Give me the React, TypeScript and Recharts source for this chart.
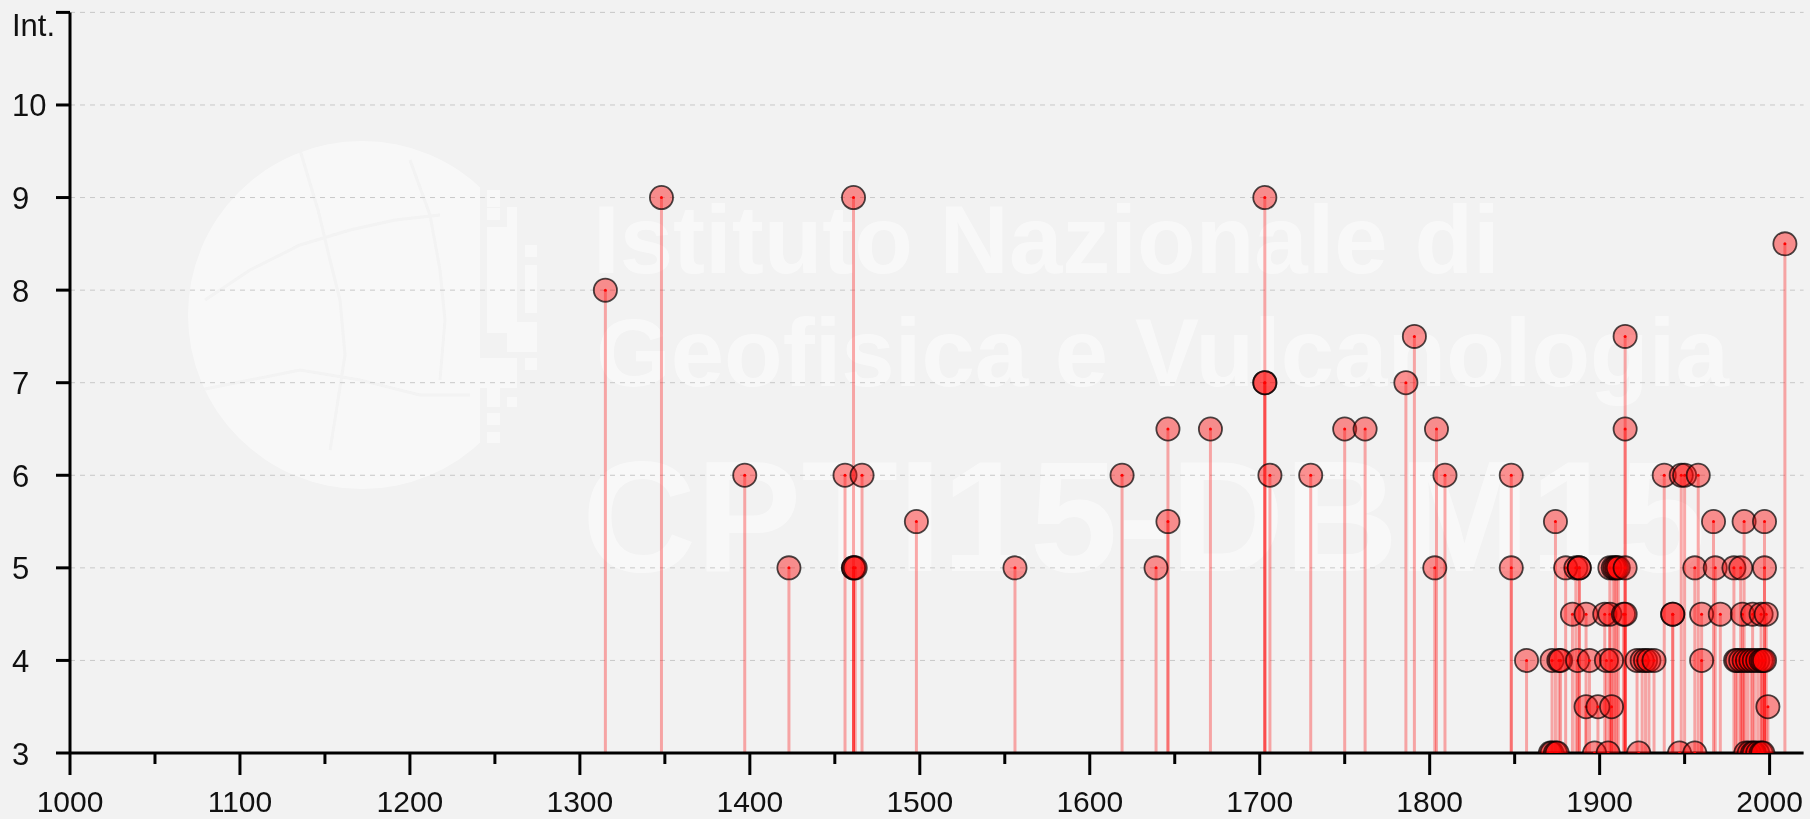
import React from "react";
import {
  CartesianGrid,
  ReferenceLine,
  Scatter,
  ScatterChart,
  XAxis,
  YAxis,
} from "recharts";

// earthquake year and epicentral intensity
const years = [
  1315, 1348, 1397, 1423, 1456, 1461, 1461, 1461, 1462, 1466, 1498, 1556, 1619,
  1639, 1646, 1646, 1671, 1703, 1703, 1703, 1706, 1730, 1750, 1762, 1786, 1791,
  1803, 1804, 1809, 1848, 1848, 1857,
  1871, 1872, 1872, 1874, 1874, 1875, 1876, 1877, 1880, 1884, 1886, 1887, 1888,
  1888, 1892, 1892, 1894, 1897, 1899, 1903, 1904, 1905, 1906, 1906, 1907, 1907,
  1908, 1909, 1910, 1911, 1914, 1915, 1915, 1915, 1915, 1922, 1923, 1925, 1927,
  1929, 1932, 1938, 1943, 1943, 1947, 1948, 1950, 1956, 1956, 1958, 1960, 1960,
  1967, 1968, 1971, 1979, 1980, 1981, 1983, 1983, 1984, 1985, 1985, 1986, 1987,
  1988, 1989, 1990, 1990, 1991, 1991, 1993, 1993, 1995, 1995, 1995, 1996, 1996,
  1997, 1997, 1997, 1998, 1999, 2009,
];

const intensities = [
  8, 9, 6, 5, 6, 9, 5, 5, 5, 6, 5.5, 5, 6,
  5, 6.5, 5.5, 6.5, 9, 7, 7, 6, 6, 6.5, 6.5, 7, 7.5,
  5, 6.5, 6, 6, 5, 4,
  3, 3, 4, 3, 5.5, 3, 4, 4, 5, 4.5, 5, 4, 5,
  5, 4.5, 3.5, 4, 3, 3.5, 4.5, 4, 3, 5, 4.5, 4, 3.5,
  5, 5, 5, 5, 4.5, 4.5, 5, 6.5, 7.5, 4, 3, 4, 4,
  4, 4, 6, 4.5, 4.5, 3, 6, 6, 5, 3, 6, 4.5, 4,
  5.5, 5, 4.5, 5, 4, 4, 5, 4, 4.5, 5.5, 4, 3, 4,
  3, 4, 4.5, 3, 4, 3, 4, 3, 4.5, 4, 3, 4, 3,
  5.5, 5, 4, 4.5, 3.5, 8.5,
];

const xTicks = [
  1000, 1050, 1100, 1150, 1200, 1250, 1300, 1350, 1400, 1450, 1500, 1550, 1600,
  1650, 1700, 1750, 1800, 1850, 1900, 1950, 2000,
];
const yTicks = [3, 4, 5, 6, 7, 8, 9, 10, 11];
const watermarkLines = [
  "Istituto Nazionale di",
  "Geofisica e Vulcanologia",
  "CPTI15-DBM15",
];

const data = years.map((year, i) => ({ year, int: intensities[i] }));

const FONT = "'Liberation Sans', Arial, sans-serif";

function XTick({ x, y, payload }: any) {
  const major = payload.value % 100 === 0;
  return (
    <g>
      <line
        x1={x}
        x2={x}
        y1={y}
        y2={y + (major ? 22 : 11)}
        stroke="#000"
        strokeWidth={3}
      />
      {major && (
        <text
          x={x}
          y={y + 59}
          textAnchor="middle"
          fontSize={30}
          fill="#111"
          fontFamily={FONT}
        >
          {payload.value}
        </text>
      )}
    </g>
  );
}

function YTick({ x, y, payload }: any) {
  const top = payload.value === 11;
  return (
    <g>
      <line x1={x - 14} x2={x} y1={y} y2={y} stroke="#000" strokeWidth={3} />
      <text
        x={x - 58}
        y={y + (top ? 23.6 : 11.5)}
        textAnchor="start"
        fontSize={31}
        fill="#111"
        fontFamily={FONT}
      >
        {top ? "Int." : payload.value}
      </text>
    </g>
  );
}

function Marker({ cx, cy }: any) {
  return (
    <g>
      <circle
        cx={cx}
        cy={cy}
        r={11.6}
        fill="#ff0000"
        fillOpacity={0.42}
        stroke="#000"
        strokeOpacity={0.7}
        strokeWidth={1.8}
      />
      <circle cx={cx} cy={cy} r={1.5} fill="#ff0000" />
    </g>
  );
}

function Watermark() {
  return (
    <svg
      width={1810}
      height={819}
      style={{ position: "absolute", left: 0, top: 0 }}
    >
      <defs>
        <clipPath id="globeClip">
          <rect x={150} y={120} width={330} height={400} />
        </clipPath>
      </defs>
      <g fill="#fff" opacity={0.5}>
        <circle cx={362} cy={315} r={174} clipPath="url(#globeClip)" />
        <rect x={487} y={190} width={13} height={17} />
        <rect x={487} y={208} width={13} height={12} />
        <rect x={507} y={207} width={10} height={31} />
        <rect x={487} y={227} width={30} height={106} />
        <rect x={525} y={245} width={12} height={12} />
        <rect x={525} y={265} width={12} height={48} />
        <rect x={507} y={322} width={30} height={30} />
        <rect x={525} y={358} width={12} height={12} />
        <rect x={467} y={358} width={50} height={30} />
        <rect x={487} y={388} width={13} height={19} />
        <rect x={507} y={397} width={10} height={10} />
        <rect x={487} y={413} width={13} height={12} />
        <rect x={487} y={432} width={13} height={11} />
        <text x={593} y={273} fontSize={96} fontWeight="bold" fontFamily={FONT}>
          {watermarkLines[0]}
        </text>
        <text x={596} y={386} fontSize={96} fontWeight="bold" fontFamily={FONT}>
          {watermarkLines[1]}
        </text>
        <text x={582} y={571} fontSize={158} fontWeight="bold" fontFamily={FONT}>
          {watermarkLines[2]}
        </text>
      </g>
      <g stroke="#f2f2f2" strokeWidth={3} fill="none" opacity={0.9}>
        <polyline points="205,300 250,270 300,245 350,230 395,220 440,215" />
        <polyline points="300,150 318,210 330,260 340,300 345,355 338,400 330,450" />
        <polyline points="200,390 250,380 300,370 360,380 420,395 470,395" />
        <polyline points="410,160 430,215 440,270 445,320 440,380" />
      </g>
    </svg>
  );
}

export default function App() {
  return (
    <div
      style={{
        position: "absolute",
        left: 0,
        top: 0,
        width: 1810,
        height: 819,
        background: "#f2f2f2",
      }}
    >
      <Watermark />
      <div style={{ position: "absolute", left: 0, top: 0 }}>
        <ScatterChart
          width={1810}
          height={819}
          margin={{ top: 12.4, right: 6.4, bottom: 0, left: 0 }}
        >
          <CartesianGrid
            vertical={false}
            stroke="#c8c8c8"
            strokeDasharray="5 5"
          />
          <XAxis
            type="number"
            dataKey="year"
            domain={[1000, 2020]}
            ticks={xTicks}
            interval={0}
            tickSize={0}
            tickMargin={0}
            tickLine={false}
            tick={<XTick />}
            axisLine={{ stroke: "#000", strokeWidth: 3 }}
            height={66}
            allowDataOverflow
          />
          <YAxis
            type="number"
            dataKey="int"
            domain={[3, 11]}
            ticks={yTicks}
            interval={0}
            tickSize={0}
            tickMargin={0}
            tickLine={false}
            tick={<YTick />}
            axisLine={{ stroke: "#000", strokeWidth: 3 }}
            width={70}
            allowDataOverflow
          />
          {data.map((d, i) => (
            <ReferenceLine
              key={i}
              segment={[
                { x: d.year, y: 3 },
                { x: d.year, y: d.int },
              ]}
              stroke="#ff0000"
              strokeOpacity={0.32}
              strokeWidth={3}
              ifOverflow="visible"
            />
          ))}
          <Scatter
            data={data}
            dataKey="int"
            isAnimationActive={false}
            shape={<Marker />}
          />
        </ScatterChart>
      </div>
    </div>
  );
}
